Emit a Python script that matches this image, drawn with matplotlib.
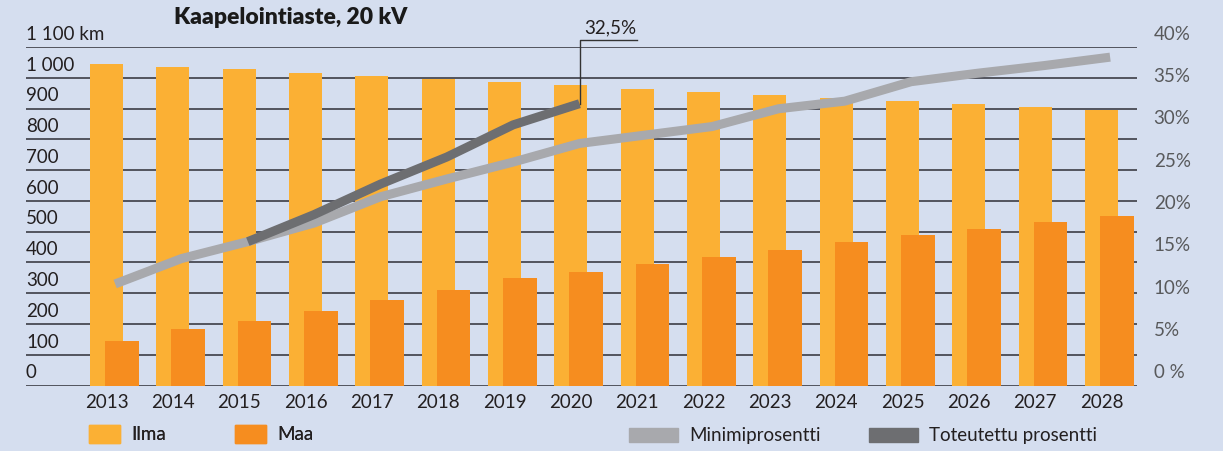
import matplotlib.pyplot as plt
import matplotlib.transforms as mtransforms
from matplotlib.patches import Patch
import numpy as np

years = list(range(2013, 2029))
ilma = [1045, 1035, 1028, 1015, 1005, 996, 987, 976, 963, 953, 944, 934, 924, 915, 905, 896]
maa = [145, 184, 210, 242, 278, 311, 350, 369, 395, 418, 441, 467, 490, 509, 532, 551]
minimi = [12.0, 15.0, 17.0, 19.2, 22.3, 24.4, 26.4, 28.6, 29.6, 30.6, 32.7, 33.6, 35.9, 36.9, 37.8, 38.8]
tot_years = [2015, 2016, 2017, 2018, 2019, 2020]
toteutettu = [17.0, 20.2, 23.8, 27.0, 30.8, 33.3]
km_ticks = list(range(0, 1101, 100))
km_labels = ['0', '100', '200', '300', '400', '500', '600', '700', '800', '900', '1 000', '1 100 km']
pct_ticks = list(range(0, 41, 5))
pct_labels = ['0 %', '5%', '10%', '15%', '20%', '25%', '30%', '35%', '40%']

bg = '#D5DEEF'
c_ilma = '#FBB034'
c_maa = '#F68D1F'
c_min = '#A8A9AD'
c_tot = '#6D6E71'
txt = '#231F20'

plt.rcParams['font.family'] = ['Lato', 'DejaVu Sans']
fs = 13.5

fig = plt.figure(figsize=(12.23, 4.51), dpi=100, facecolor=bg)
ax = fig.add_axes([26 / 1223, 1 - 385.5 / 451, (1137 - 26) / 1223, (385.5 - 47) / 451])
ax.set_facecolor('none')

x = np.array(years, dtype=float)
ax.bar(x, ilma, width=0.5, color=c_ilma, zorder=2)
ax.bar(x + 0.232, maa, width=0.51, color=c_maa, zorder=2)

ax.set_xlim(2011.786, 2028.535)
ax.set_ylim(0, 1100)
for v in km_ticks:
    ax.axhline(v, color='#3C3D45', lw=1.2, zorder=1)
for spine in ax.spines.values():
    spine.set_visible(False)
ax.set_yticks([])
ax.set_xticks(years)
ax.set_xticklabels([str(y) for y in years], fontsize=fs, color=txt)
ax.tick_params(axis='x', length=0, pad=6)

trans = mtransforms.blended_transform_factory(ax.transAxes, ax.transData)
off = mtransforms.offset_copy(trans, fig=fig, x=0, y=3, units='points')
for v, lab in zip(km_ticks, km_labels):
    ax.text(0, v, lab, transform=off, ha='left', va='bottom', fontsize=fs, color=txt, zorder=3)

ax2 = ax.twinx()
ax2.set_ylim(0, 40)
ax2.set_yticks([])
for spine in ax2.spines.values():
    spine.set_visible(False)
ax2.plot(x + 0.13, minimi, color=c_min, lw=6.5, solid_capstyle='butt', zorder=4)
ax2.plot(np.array(tot_years) + 0.13, toteutettu, color=c_tot, lw=6.5, solid_capstyle='butt', zorder=5)

trans2 = mtransforms.blended_transform_factory(ax2.transAxes, ax2.transData)
off2 = mtransforms.offset_copy(trans2, fig=fig, x=12, y=3, units='points')
for v, lab in zip(pct_ticks, pct_labels):
    ax2.text(1, v, lab, transform=off2, ha='left', va='bottom', fontsize=fs, color='#58595B')

# leader line for the last realised value
lx = tot_years[-1] + 0.14
ax2.plot([lx, lx, lx + 0.85], [toteutettu[-1], 40.8, 40.8], color='#333333', lw=1, clip_on=False, zorder=6)
ax2.text(lx + 0.45, 41.2, '32,5%', ha='center', va='bottom', fontsize=fs, color=txt)

fig.text(291 / 1223, 1 - 18 / 451, 'Kaapelointiaste, 20 kV', ha='center', va='center',
         fontsize=16.5, fontweight='heavy', color='#1A1A1A')

h1 = [Patch(color=c_ilma, label='Ilma'), Patch(color=c_maa, label='Maa')]
leg1 = fig.legend(handles=h1, loc='center left', bbox_to_anchor=(72 / 1223, 1 - 434 / 451), ncol=2,
                  frameon=False, fontsize=fs, handlelength=1.65, handleheight=1.15,
                  handletextpad=0.6, columnspacing=3.7, labelcolor=txt)
h2 = [Patch(color=c_min, label='Minimiprosentti'), Patch(color=c_tot, label='Toteutettu prosentti')]
leg2 = fig.legend(handles=h2, loc='center left', bbox_to_anchor=(612 / 1223, 1 - 436 / 451), ncol=2,
                  frameon=False, fontsize=fs, handlelength=2.6, handleheight=0.75,
                  handletextpad=0.6, columnspacing=2.6, labelcolor=txt)
fig.add_artist(leg1)

fig.savefig('out.png', dpi=100, facecolor=bg)
